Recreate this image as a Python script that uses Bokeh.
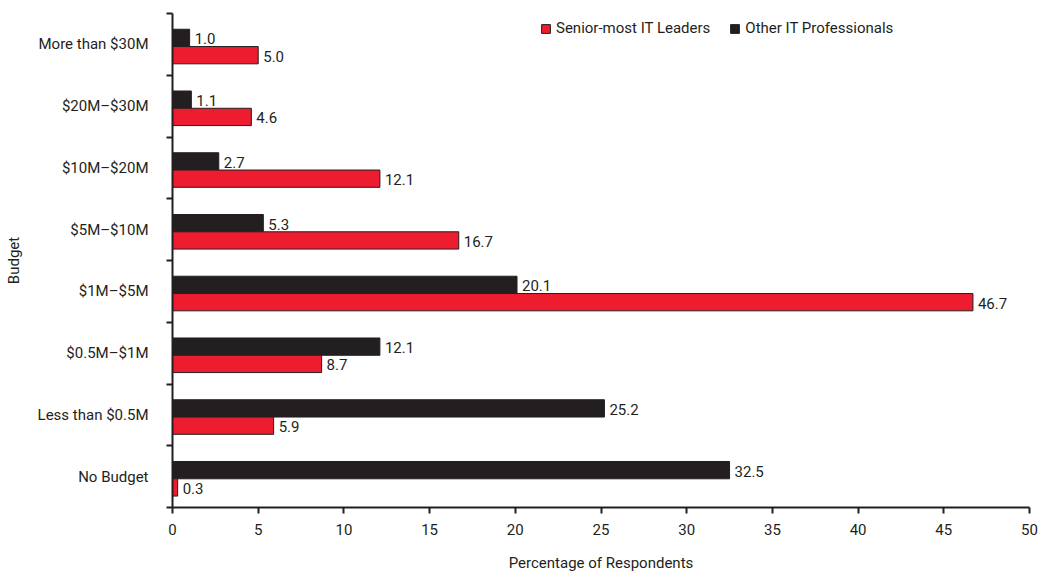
from bokeh.plotting import figure
from bokeh.models import Range1d, FixedTicker, ColumnDataSource, Legend, LegendItem
from bokeh.core.properties import value
from bokeh.embed import file_html
from bokeh.resources import INLINE

categories = ["More than $30M", "$20M\u2013$30M", "$10M\u2013$20M", "$5M\u2013$10M",
              "$1M\u2013$5M", "$0.5M\u2013$1M", "Less than $0.5M", "No Budget"]
senior = [5.0, 4.6, 12.1, 16.7, 46.7, 8.7, 5.9, 0.3]
other = [1.0, 1.1, 2.7, 5.3, 20.1, 12.1, 25.2, 32.5]
x_ticks = [0, 5, 10, 15, 20, 25, 30, 35, 40, 45, 50]

FONT = "Roboto"
FS = "15px"
RED = "#ED1C2E"
DARK = "#231F20"

n = len(categories)
centers = [n - 0.5 - i for i in range(n)]
h = 0.28
shift = -0.035
y_other = [c + shift + h / 2 for c in centers]
y_senior = [c + shift - h / 2 for c in centers]

src_o = ColumnDataSource(dict(y=y_other, v=other, lab=["%.1f" % v for v in other]))
src_s = ColumnDataSource(dict(y=y_senior, v=senior, lab=["%.1f" % v for v in senior]))

p = figure(width=1041, height=581, output_backend="svg", toolbar_location=None,
           x_range=Range1d(0, 50), y_range=Range1d(0, n),
           min_border_left=172, min_border_right=12, min_border_top=13, min_border_bottom=74)
p.outline_line_color = None
p.xgrid.grid_line_color = None
p.ygrid.grid_line_color = None

r_o = p.hbar(y="y", right="v", left=0, height=h, source=src_o, fill_color=DARK, line_color=DARK, line_width=1)
r_s = p.hbar(y="y", right="v", left=0, height=h, source=src_s, fill_color=RED, line_color=DARK, line_width=1)

for src in (src_o, src_s):
    p.text(x="v", y="y", text="lab", source=src, x_offset=5, y_offset=1, text_baseline="middle",
           text_align="left", text_font=value(FONT), text_font_size=FS, text_color=DARK)

# x axis
xa = p.xaxis[0]
xa.ticker = FixedTicker(ticks=x_ticks)
xa.axis_line_color = DARK
xa.axis_line_width = 2
xa.major_tick_line_color = DARK
xa.major_tick_line_width = 2
xa.major_tick_in = 0
xa.major_tick_out = 6
xa.minor_tick_line_color = None
xa.major_label_text_font = FONT
xa.major_label_text_font_size = FS
xa.major_label_text_color = DARK
xa.major_label_standoff = 10
xa.axis_label = "Percentage of Respondents"
xa.axis_label_text_font = FONT
xa.axis_label_text_font_size = FS
xa.axis_label_text_font_style = "normal"
xa.axis_label_text_color = DARK
xa.axis_label_standoff = 16

# y axis
ya = p.yaxis[0]
ya.ticker = FixedTicker(ticks=centers, minor_ticks=list(range(0, n + 1)))
ya.major_label_overrides = {c: lab for c, lab in zip(centers, categories)}
ya.axis_line_color = DARK
ya.axis_line_width = 2
ya.major_tick_line_color = None
ya.major_tick_in = 0
ya.major_tick_out = 0
ya.minor_tick_line_color = DARK
ya.minor_tick_line_width = 2
ya.minor_tick_in = 0
ya.minor_tick_out = 6
ya.major_label_text_font = FONT
ya.major_label_text_font_size = FS
ya.major_label_text_color = DARK
ya.major_label_standoff = 18
ya.axis_label = "Budget"
ya.axis_label_text_font = FONT
ya.axis_label_text_font_size = FS
ya.axis_label_text_font_style = "normal"
ya.axis_label_text_color = DARK
ya.axis_label_standoff = 12

legend = Legend(items=[LegendItem(label="Senior-most IT Leaders", renderers=[r_s]),
                       LegendItem(label="Other IT Professionals", renderers=[r_o])],
                orientation="horizontal", location=(368, 470), padding=0, spacing=19,
                glyph_width=11, glyph_height=11, label_standoff=5,
                label_text_font=FONT, label_text_font_size=FS, label_text_color=DARK,
                border_line_color=None, background_fill_alpha=0)
p.add_layout(legend)

open("out.html", "w").write(file_html(p, INLINE))
